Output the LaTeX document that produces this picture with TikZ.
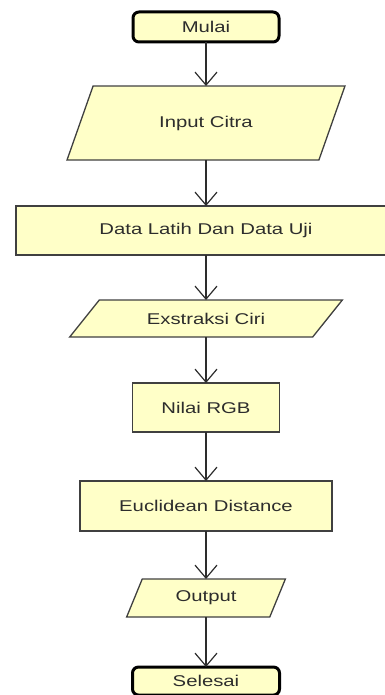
\documentclass[tikz,border=0pt]{standalone}
\usepackage{fontspec}
\newfontfamily\chartfont[FakeStretch=1.3]{Liberation Sans}
\usetikzlibrary{positioning}
\usetikzlibrary{shapes.geometric}
\usetikzlibrary{arrows.meta}

\definecolor{boxfill}{RGB}{255,255,200}
\definecolor{boxline}{RGB}{64,64,64}
\definecolor{textgray}{RGB}{45,45,45}

\tikzset{
	base/.style={draw=boxline, fill=boxfill, line width=1.3pt, text=textgray,
		font=\chartfont\fontsize{15.6}{18}\selectfont, inner sep=0pt, outer sep=0pt},
	terminal/.style={base, rectangle, rounded corners=6pt, draw=black, line width=3pt,
		minimum width=146pt},
	process/.style={base, rectangle, minimum height=49pt},
	io/.style={base, trapezium, trapezium stretches=true},
	flow/.style={draw=textgray, line width=1.2pt,
		-{Straight Barb[length=13pt,width=22pt,line width=1.2pt]}}
}

\begin{document}
\begin{tikzpicture}[x=1pt,y=1pt]
		
		% ---------------------
		% Proper size --- Bounding box
		\useasboundingbox (0,-695) rectangle (384,0);
		
		% ---------------------
		% Steps of the flowchart
		\node[terminal, minimum height=30pt] (Mulai) at (206,-27) {Mulai};
		
		\node[io, below=44pt of Mulai, minimum width=278pt, minimum height=74pt,
			trapezium left angle=53.4, trapezium right angle=126.6] (Input) {Input Citra};
		
		\node[process, below=46pt of Input, minimum width=380pt] (Data) {Data Latih Dan Data Uji};
		
		\node[io, below=45pt of Data, minimum width=273pt, minimum height=37pt,
			trapezium left angle=34.9, trapezium right angle=145.1] (Ciri) {Exstraksi Ciri};
		
		\node[process, below=46pt of Ciri, minimum width=147pt] (RGB) {Nilai RGB};
		
		\node[process, below=49pt of RGB, minimum width=252pt, minimum height=50pt] (Euclid) {Euclidean Distance};
		
		\node[io, below=48pt of Euclid, minimum width=160pt, minimum height=38pt,
			trapezium left angle=62.2, trapezium right angle=117.8] (Output) {Output};
		
		\node[terminal, below=50pt of Output, minimum width=147pt, minimum height=28pt] (Selesai) {Selesai};
		
		% ---------------------
		% Connectors
		\draw[flow] (Mulai.south) -- (Input.north);
		\draw[flow] (Input.south) -- (Data.north);
		\draw[flow] (Data.south) -- (Ciri.north);
		\draw[flow] (Ciri.south) -- (RGB.north);
		\draw[flow] (RGB.south) -- (Euclid.north);
		\draw[flow] (Euclid.south) -- (Output.north);
		\draw[flow] (Output.south) -- (Selesai.north);
		
\end{tikzpicture}
\end{document}
